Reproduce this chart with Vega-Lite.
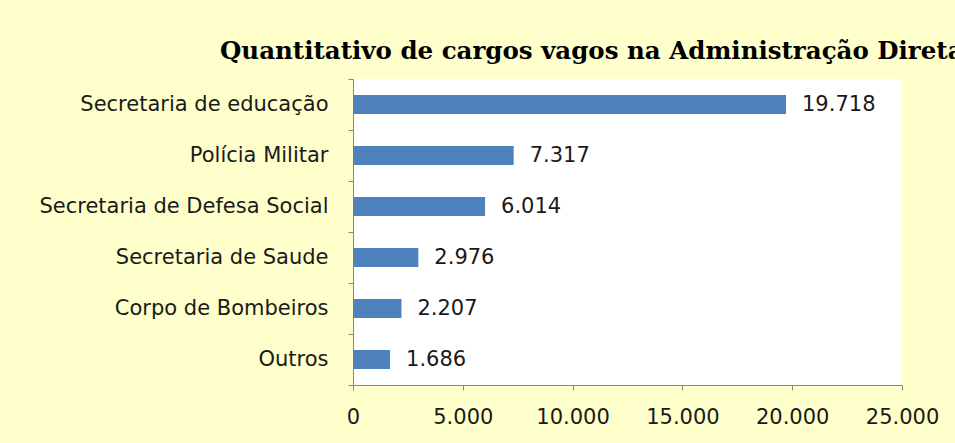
{
  "$schema": "https://vega.github.io/schema/vega-lite/v6.json",
  "autosize": {"type": "none"},
  "width": 549,
  "height": 306,
  "padding": {"left": 353, "top": 79, "right": 53, "bottom": 58},
  "background": "#FFFFCC",
  "title": {
    "text": "Quantitativo de cargos vagos na Administração Direta",
    "anchor": "start",
    "frame": "group",
    "dx": -133,
    "dy": 34,
    "offset": 19,
    "baseline": "alphabetic",
    "font": "DejaVu Serif",
    "fontWeight": "bold",
    "fontSize": 24.5,
    "color": "#000000"
  },
  "data": {
    "values": [
      {"categoria": "Secretaria de educação", "vagos": 19718},
      {"categoria": "Polícia Militar", "vagos": 7317},
      {"categoria": "Secretaria de Defesa Social", "vagos": 6014},
      {"categoria": "Secretaria de Saude", "vagos": 2976},
      {"categoria": "Corpo de Bombeiros", "vagos": 2207},
      {"categoria": "Outros", "vagos": 1686}
    ]
  },
  "encoding": {
    "y": {
      "field": "categoria",
      "type": "nominal",
      "sort": null,
      "scale": {"paddingInner": 0, "paddingOuter": 0},
      "axis": {
        "title": null,
        "tickBand": "extent",
        "tickSize": 5,
        "tickColor": "#868686",
        "domainColor": "#868686",
        "labelPadding": 20,
        "labelFont": "DejaVu Sans",
        "labelFontSize": 21,
        "labelColor": "#1a1a1a",
        "labelLimit": 400
      }
    },
    "x": {
      "field": "vagos",
      "type": "quantitative",
      "scale": {"domain": [0, 25000], "nice": false},
      "axis": {
        "title": null,
        "values": [0, 5000, 10000, 15000, 20000, 25000],
        "format": ",d",
        "grid": false,
        "tickSize": 5,
        "tickColor": "#868686",
        "domainColor": "#868686",
        "labelPadding": 16,
        "labelOverlap": false,
        "labelFlush": false,
        "labelBound": false,
        "labelFont": "DejaVu Sans",
        "labelFontSize": 21,
        "labelColor": "#1a1a1a"
      }
    }
  },
  "layer": [
    {
      "mark": {"type": "bar", "color": "#4F81BD", "height": {"band": 0.37}}
    },
    {
      "mark": {"type": "text", "align": "left", "baseline": "middle", "dx": 16, "font": "DejaVu Sans", "fontSize": 21, "color": "#1a1a1a"},
      "encoding": {"text": {"field": "vagos", "type": "quantitative", "format": ",d"}}
    }
  ],
  "config": {
    "view": {"fill": "#FFFFFF", "stroke": null},
    "locale": {"number": {"decimal": ",", "thousands": ".", "grouping": [3], "currency": ["R$", ""]}}
  }
}
